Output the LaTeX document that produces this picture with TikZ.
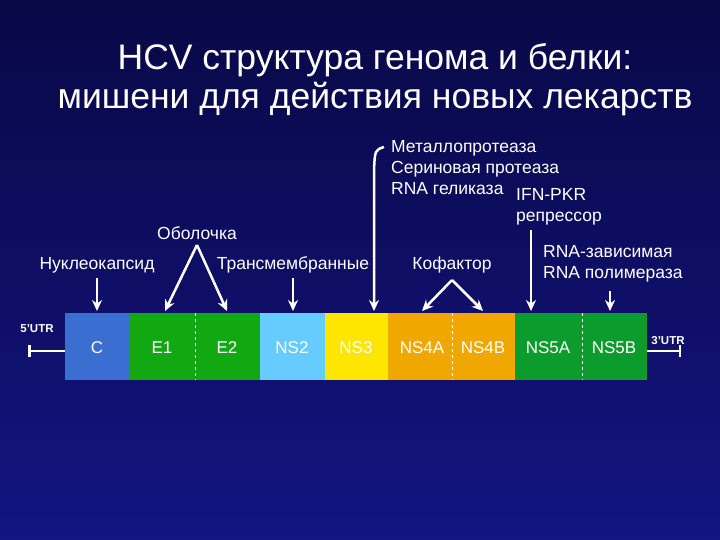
\documentclass[tikz,border=0pt]{standalone}
\usepackage{fontspec}
\setmainfont{Liberation Sans}
\usetikzlibrary{arrows.meta}
\definecolor{cC}{RGB}{58,110,208}
\definecolor{cE}{RGB}{17,168,17}
\definecolor{cN2}{RGB}{102,204,255}
\definecolor{cN3}{RGB}{255,230,0}
\definecolor{cN4}{RGB}{240,168,0}
\definecolor{cN5}{RGB}{12,155,45}
\definecolor{bgT}{RGB}{8,8,70}
\definecolor{bgB}{RGB}{20,20,130}
\begin{document}
\begin{tikzpicture}[x=1pt,y=-1pt,
  lbl/.style={text=white,font=\fontsize{17.5}{21}\selectfont,inner sep=0},
  arr/.style={white,line width=2.5pt,-{Stealth[length=11pt,width=10pt]}},
  dv/.style={white,line width=0.8pt,dash pattern=on 3pt off 3pt}]
\shade[top color=bgT,bottom color=bgB] (0,0) rectangle (720,540);
\useasboundingbox (0,0) rectangle (720,540);
\node[text=white,font=\fontsize{35.5}{39}\selectfont,align=center] (title) at (375,80) {HCV структура генома и белки:\\мишени для действия новых лекарств};
\fill[cC] (65,313) rectangle (130,380);
\fill[cE] (130,313) rectangle (260,380);
\fill[cN2] (260,313) rectangle (325,380);
\fill[cN3] (325,313) rectangle (388,380);
\fill[cN4] (388,313) rectangle (515,380);
\fill[cN5] (515,313) rectangle (647,380);
\draw[dv] (195,313)--(195,380);
\draw[dv] (452,313)--(452,380);
\draw[dv] (582,313)--(582,380);
\foreach \n/\x/\t in {c/97/C,e1/162/E1,e2/227/E2,ns2/292/NS2,ns3/356/NS3,ns4a/422/NS4A,ns4b/483/NS4B,ns5a/548/NS5A,ns5b/614/NS5B}
  \node[text=white,font=\fontsize{17}{19}\selectfont] (\n) at (\x,348) {\t};
\node[text=white,font=\bfseries\fontsize{11.5}{12}\selectfont] (u5) at (37,329) {5'UTR};
\node[text=white,font=\bfseries\fontsize{11.5}{12}\selectfont] (u3) at (668,341) {3'UTR};
\coordinate (a5) at (28,351); \coordinate (b5) at (65,351);
\coordinate (a3) at (647,351); \coordinate (b3) at (681,351);
\draw[white,line width=2.5pt,{Bar[width=12pt]}-] (a5)--(b5);
\draw[white,line width=2.5pt,-{Bar[width=12pt]}] (a3)--(b3);
\node[lbl] (nuk) at (97,265) {Нуклеокапсид};
\node[lbl] (obo) at (197,233) {Оболочка};
\node[lbl] (tm) at (293,265) {Трансмембранные};
\node[lbl] (kof) at (452,265) {Кофактор};
\node[lbl,anchor=north west,align=left] (ns3t) at (391,140) {Металлопротеаза\\Сериновая протеаза\\RNA геликаза};
\node[lbl,anchor=north west,align=left] (ifn) at (516,188) {IFN-PKR\\репрессор};
\node[lbl,anchor=north west,align=left] (rdr) at (543,245) {RNA-зависимая\\RNA полимераза};
\coordinate (o1) at (197,245); \coordinate (k1) at (452,280);
\coordinate (n1) at (97,278); \coordinate (t1) at (293,278);
\coordinate (m1) at (384,147); \coordinate (i1) at (531,230);
\coordinate (r1) at (610,291);
\draw[arr] (n1) -- (97,311);
\draw[arr] (o1) -- (165,311);
\draw[arr] (o1) -- (227,311);
\draw[arr] (t1) -- (293,311);
\draw[arr] (k1) -- (422,311);
\draw[arr] (k1) -- (483,311);
\draw[arr] (m1) .. controls (375,150) .. (374,170) -- (374,311);
\draw[arr] (i1) -- (531,311);
\draw[arr] (r1) -- (610,311);
\end{tikzpicture}
\end{document}
